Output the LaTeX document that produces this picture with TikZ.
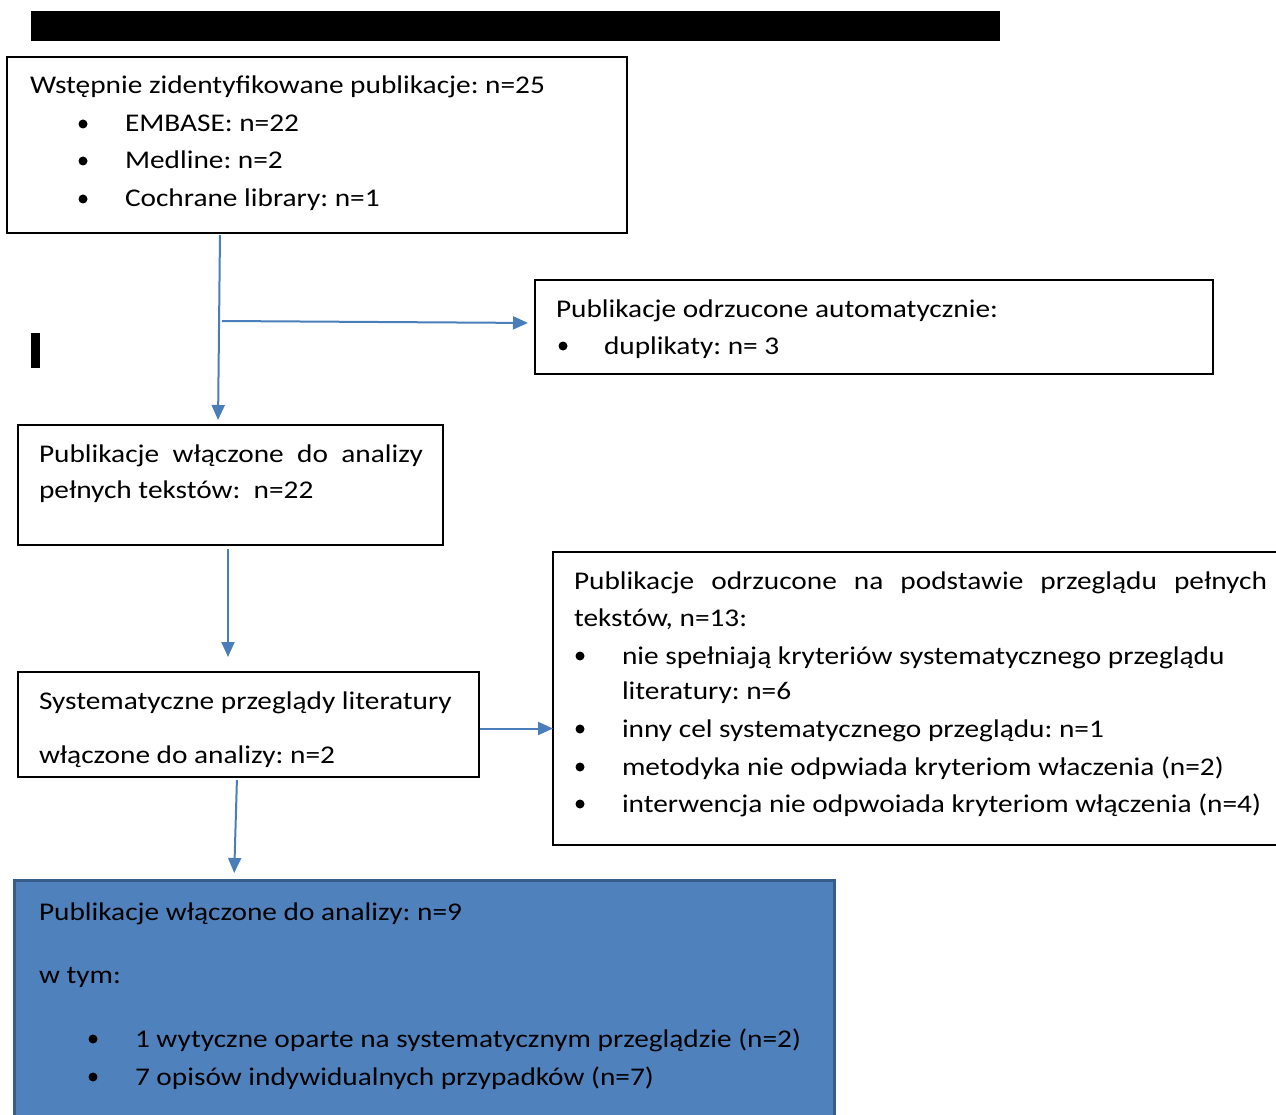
\documentclass[tikz,border=0pt]{standalone}
\usepackage{fontspec}
\setmainfont{Carlito}[FakeStretch=1.15]
\usetikzlibrary{arrows.meta}
\definecolor{arrowblue}{RGB}{74,126,187}
\definecolor{fillblue}{RGB}{79,129,189}
\definecolor{edgeblue}{RGB}{56,93,138}
\frenchspacing
\begin{document}
\begin{tikzpicture}[x=1pt,y=-1pt,
  every node/.style={font=\fontsize{25.5}{37}\selectfont},
  box/.style={draw=black, line width=1.6pt, rectangle, anchor=north west, inner sep=0pt, outer sep=0pt},
  txt/.style={anchor=base west, inner sep=0pt, outer sep=0pt},
  bul/.style={circle, fill=black, inner sep=0pt, minimum size=9pt},
  arr/.style={draw=arrowblue, line width=2pt, -{Triangle[length=15pt,width=13pt]}}]
\useasboundingbox (0,0) rectangle (1276,1115);
\clip (0,0) rectangle (1276,1115);
% black bars
\fill[black] (31,11) rectangle (1000,41);
\fill[black] (31,333) rectangle (40,368);
% boxes
\node[box, minimum width=620pt, minimum height=176pt] (b1) at (7,57) {};
\node[box, minimum width=678pt, minimum height=94pt] (bdup) at (535,280) {};
\node[box, minimum width=425pt, minimum height=120pt] (b2) at (18,425) {};
\node[box, minimum width=461pt, minimum height=105pt] (b3) at (18,672) {};
\node[box, minimum width=730pt, minimum height=293pt] (b4) at (553,552) {};
\node[box, draw=edgeblue, fill=fillblue, line width=3pt, minimum width=820pt, minimum height=250pt] (b5) at (14,880) {};
% box 1 text
\node[txt] (t11) at (30,94) {Wstępnie zidentyfikowane publikacje: n=25};
\node[bul] (d12) at (83,124) {};
\node[txt] (t12) at (125,132) {EMBASE: n=22};
\node[bul] (d13) at (83,161) {};
\node[txt] (t13) at (125,169) {Medline: n=2};
\node[bul] (d14) at (83,199) {};
\node[txt] (t14) at (125,207) {Cochrane library: n=1};
% duplicates box
\node[txt] (t21) at (556,317) {Publikacje odrzucone automatycznie:};
\node[bul] (d22) at (563,346) {};
\node[txt] (t22) at (604,354) {duplikaty: n= 3};
% box 2
\node[txt] (t31) at (39,462) {\makebox[384pt][s]{Publikacje włączone do analizy}};
\node[txt] (t32) at (39,498) {pełnych tekstów:\ \ n=22};
% box 3
\node[txt] (t41) at (39,709) {Systematyczne przeglądy literatury};
\node[txt] (t42) at (39,763) {włączone do analizy: n=2};
% box 4
\node[txt] (t51) at (574,589) {\makebox[693pt][s]{Publikacje odrzucone na podstawie przeglądu pełnych}};
\node[txt] (t52) at (574,626) {tekstów, n=13:};
\node[bul] (d53) at (580,656) {};
\node[txt] (t53) at (622,664) {nie spełniają kryteriów systematycznego przeglądu};
\node[txt] (t54) at (622,699) {literatury: n=6};
\node[bul] (d55) at (580,729) {};
\node[txt] (t55) at (622,737) {inny cel systematycznego przeglądu: n=1};
\node[bul] (d56) at (580,767) {};
\node[txt] (t56) at (622,775) {metodyka nie odpwiada kryteriom właczenia (n=2)};
\node[bul] (d57) at (580,804) {};
\node[txt] (t57) at (622,812) {interwencja nie odpwoiada kryteriom włączenia (n=4)};
% box 5
\node[txt] (t61) at (39,920) {Publikacje włączone do analizy: n=9};
\node[txt] (t62) at (39,983) {w tym:};
\node[bul] (d63) at (93,1039) {};
\node[txt] (t63) at (135,1047) {1 wytyczne oparte na systematycznym przeglądzie (n=2)};
\node[bul] (d64) at (93,1077) {};
\node[txt] (t64) at (135,1085) {7 opisów indywidualnych przypadków (n=7)};
% connectors
\coordinate (j) at (222,321);
\draw[arr, shorten <=2pt, shorten >=5pt] ([xshift=213pt]b1.south west) -- ([xshift=200pt]b2.north west);
\draw[arr, shorten >=7pt] (j) -- ([yshift=4pt]bdup.west);
\draw[arr, shorten <=4pt, shorten >=15pt] ([xshift=210pt]b2.south west) -- ([xshift=210pt]b3.north west);
\draw[arr, shorten <=1pt] ([yshift=-4pt]b3.east) -- ([yshift=-4pt]b3.east -| b4.west);
\draw[arr, shorten <=3pt, shorten >=7pt] ([xshift=219pt]b3.south west) -- ([xshift=220pt]b5.north west);
\end{tikzpicture}
\end{document}
